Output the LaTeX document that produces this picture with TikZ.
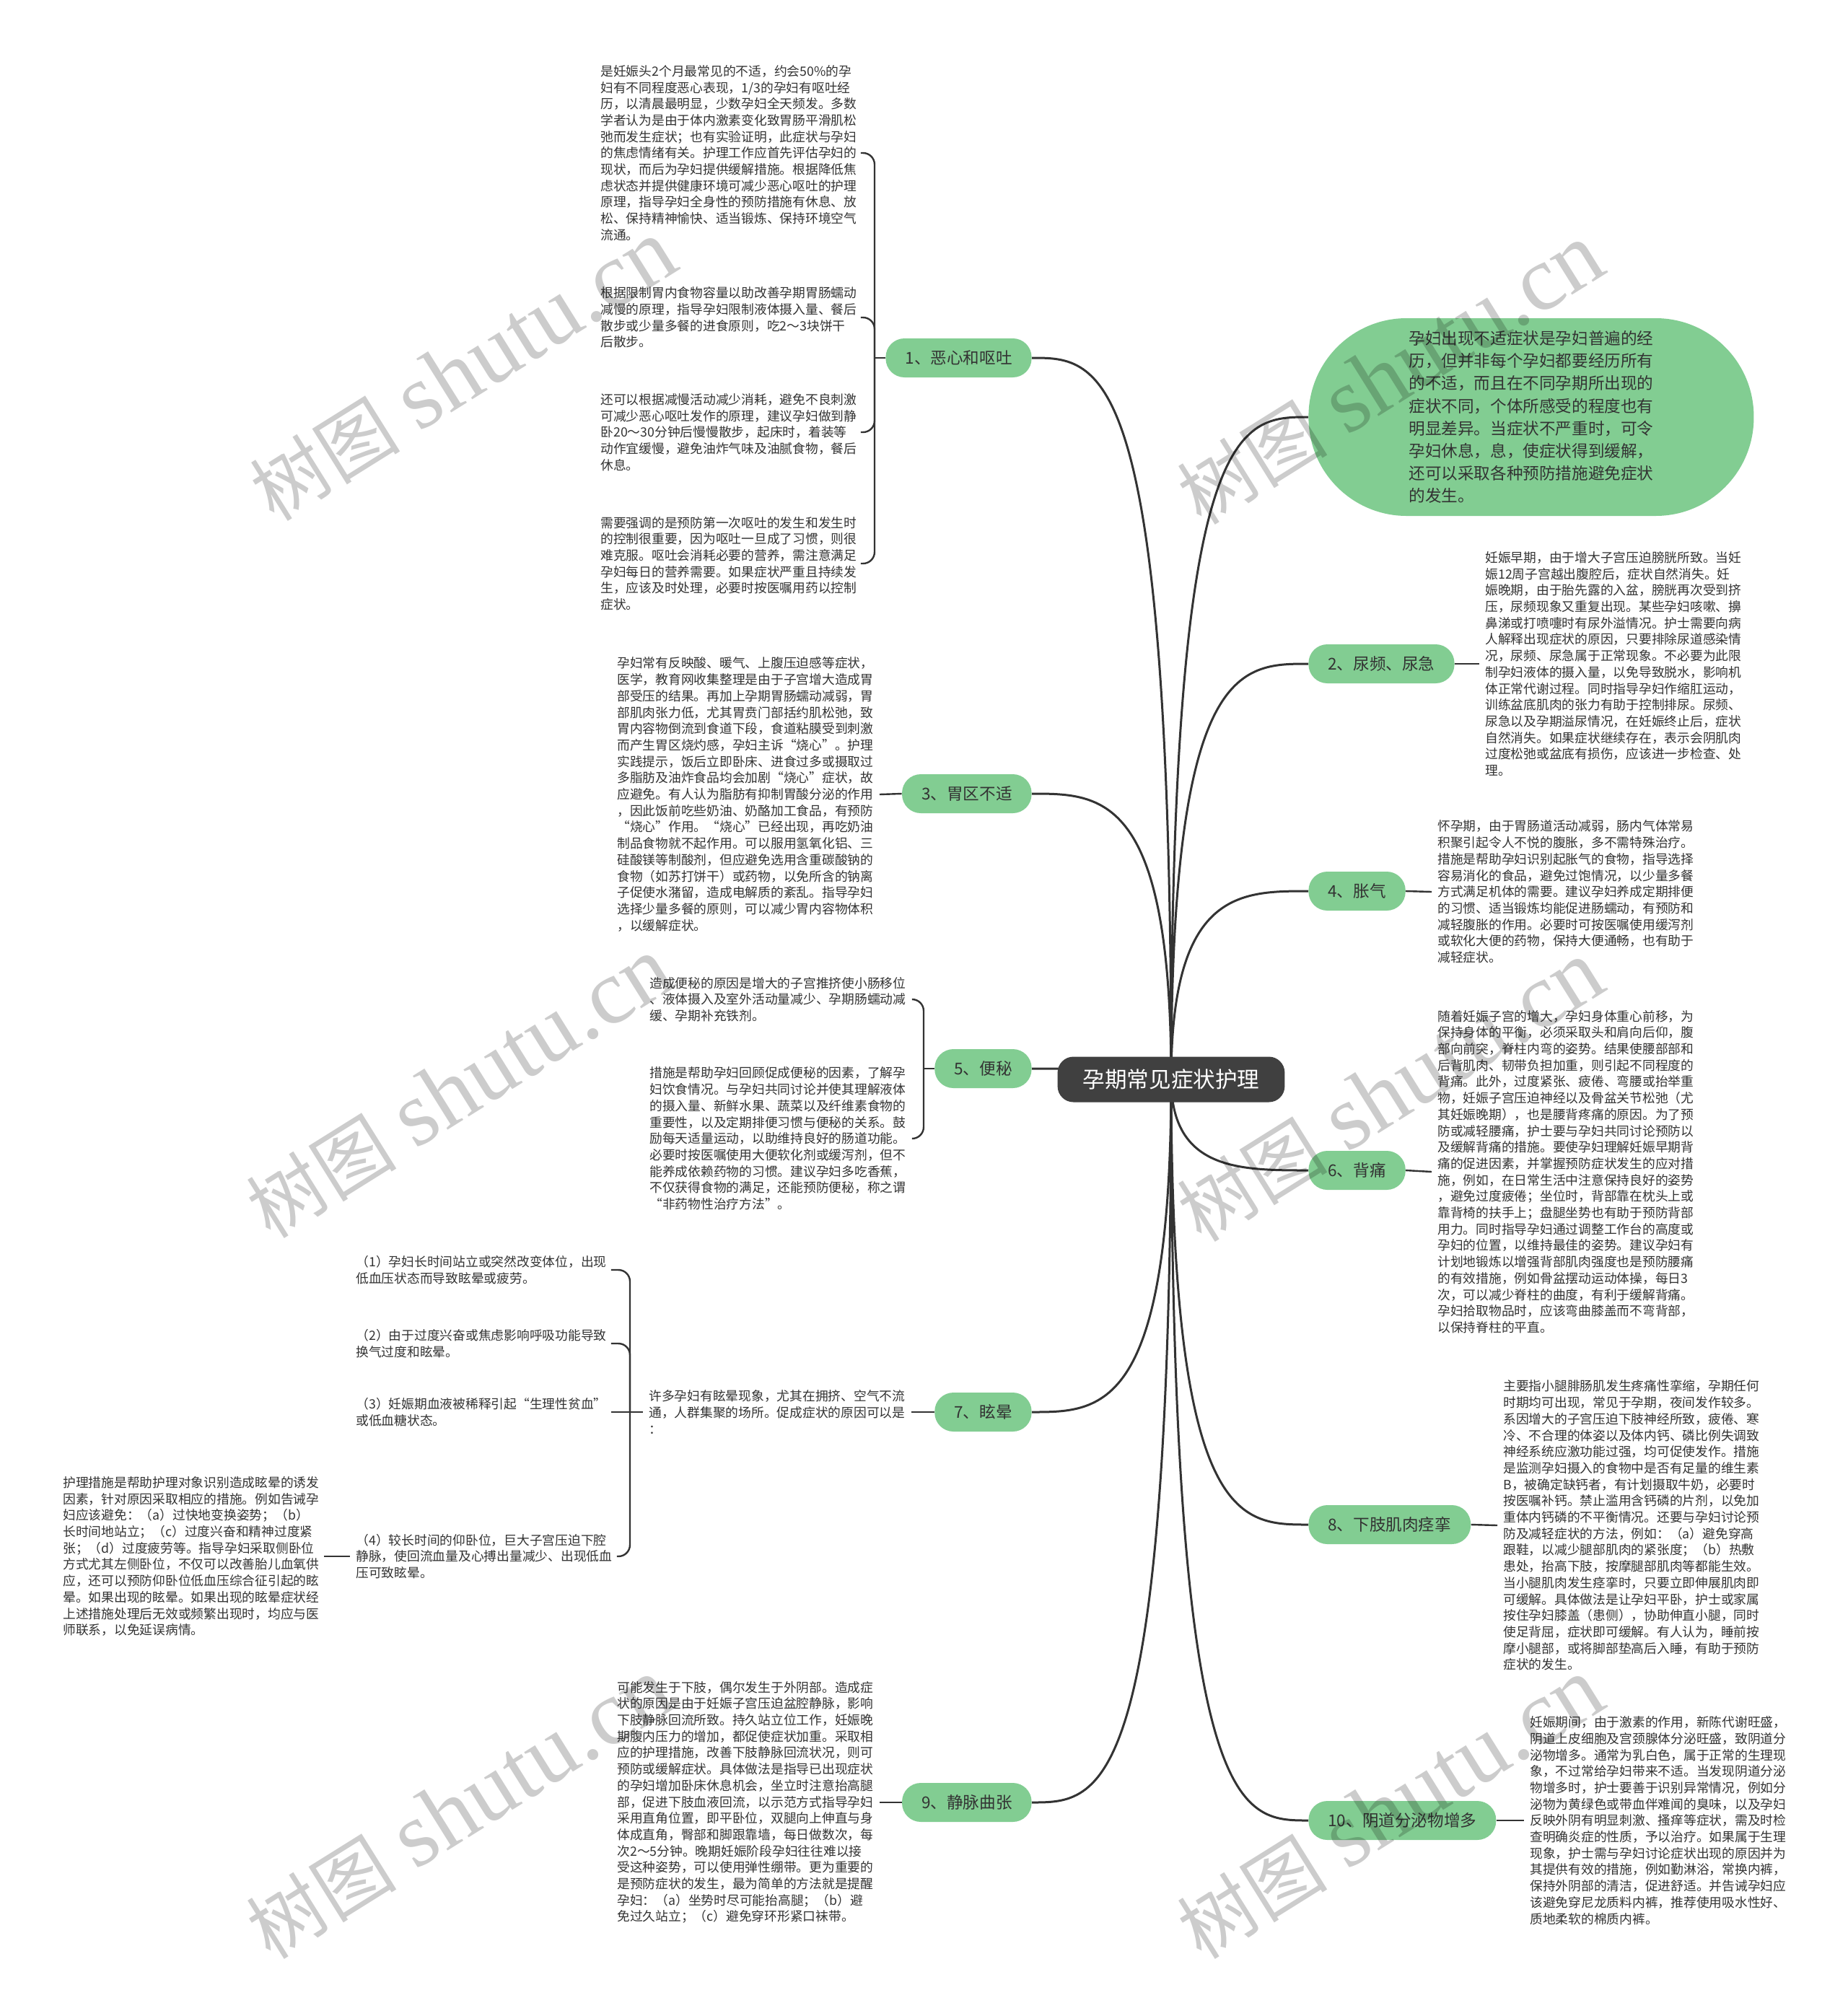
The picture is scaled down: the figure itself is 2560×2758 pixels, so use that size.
\documentclass[tikz,border=0pt]{standalone}
\usepackage{fontspec}
\setmainfont{Noto Sans CJK SC}
\newfontfamily\wmlatin{Liberation Serif}
\usetikzlibrary{calc,backgrounds}
\definecolor{nodegreen}{HTML}{82CD92}
\definecolor{txt}{HTML}{333333}
\definecolor{linec}{HTML}{333333}
\definecolor{centerfill}{HTML}{404040}
\tikzset{
  para/.style={inner sep=0pt, align=left, font=\fontsize{8.875pt}{11.35pt}\selectfont, text=txt},
  mainnode/.style={fill=nodegreen, rounded corners=13pt, inner xsep=13.5pt, inner ysep=0pt, minimum height=27pt, font=\fontsize{11.3pt}{13pt}\selectfont, text=txt},
  centernode/.style={fill=centerfill, rounded corners=11pt, inner xsep=17.5pt, inner ysep=0pt, minimum height=31.5pt, font=\fontsize{15.3pt}{17pt}\selectfont, text=white},
  bubble/.style={fill=nodegreen, rounded corners=68pt, minimum width=308.5pt, minimum height=137pt, inner sep=0pt, align=left, font=\fontsize{11.3pt}{15.6pt}\selectfont, text=txt},
  branch/.style={draw=linec, line width=1.5pt},
  link/.style={draw=linec, line width=1.2pt},
  brace/.style={draw=linec, line width=1.2pt, rounded corners=8pt},
  wm/.style={text=black, text opacity=0.2, rotate=32, inner sep=0pt}
}
\newcommand{\wmtext}{{\fontsize{52pt}{52pt}\selectfont 树图}\hspace{14pt}{\wmlatin\fontsize{64pt}{64pt}\selectfont shutu.cn}}
\begin{document}
\begin{tikzpicture}[x=0.5pt,y=-0.5pt]
\useasboundingbox (0,0) rectangle (2560,2758);

% centre and main nodes
\node[centernode] (c) at (1623,1496) {孕期常见症状护理};

\node[mainnode, anchor=east] (n1) at (1430,496) {1、恶心和呕吐};
\node[mainnode, anchor=east] (n3) at (1430,1100) {3、胃区不适};
\node[mainnode, anchor=east] (n5) at (1430,1481) {5、便秘};
\node[mainnode, anchor=east] (n7) at (1430,1957) {7、眩晕};
\node[mainnode, anchor=east] (n9) at (1430,2498) {9、静脉曲张};

\node[bubble, anchor=west] (bub) at (1813,578) {孕妇出现不适症状是孕妇普遍的经\\历，但并非每个孕妇都要经历所有\\的不适，而且在不同孕期所出现的\\症状不同，个体所感受的程度也有\\明显差异。当症状不严重时，可令\\孕妇休息，息，使症状得到缓解，\\还可以采取各种预防措施避免症状\\的发生。};
\node[mainnode, anchor=west] (n2) at (1813,920) {2、尿频、尿急};
\node[mainnode, anchor=west] (n4) at (1813,1235) {4、胀气};
\node[mainnode, anchor=west] (n6) at (1813,1622) {6、背痛};
\node[mainnode, anchor=west] (n8) at (1813,2113) {8、下肢肌肉痉挛};
\node[mainnode, anchor=west] (n10) at (1813,2523) {10、阴道分泌物增多};

% 1 恶心和呕吐
\node[para, anchor=west] (p1a) at (832,212) {是妊娠头2个月最常见的不适，约会50\%的孕\\妇有不同程度恶心表现，1/3的孕妇有呕吐经\\历，以清晨最明显，少数孕妇全天频发。多数\\学者认为是由于体内激素变化致胃肠平滑肌松\\弛而发生症状；也有实验证明，此症状与孕妇\\的焦虑情绪有关。护理工作应首先评估孕妇的\\现状，而后为孕妇提供缓解措施。根据降低焦\\虑状态并提供健康环境可减少恶心呕吐的护理\\原理，指导孕妇全身性的预防措施有休息、放\\松、保持精神愉快、适当锻炼、保持环境空气\\流通。};
\node[para, anchor=west] (p1b) at (832,440) {根据限制胃内食物容量以助改善孕期胃肠蠕动\\减慢的原理，指导孕妇限制液体摄入量、餐后\\散步或少量多餐的进食原则，吃2～3块饼干\\后散步。};
\node[para, anchor=west] (p1c) at (832,599) {还可以根据减慢活动减少消耗，避免不良刺激\\可减少恶心呕吐发作的原理，建议孕妇做到静\\卧20～30分钟后慢慢散步，起床时，着装等\\动作宜缓慢，避免油炸气味及油腻食物，餐后\\休息。};
\node[para, anchor=west] (p1d) at (832,781) {需要强调的是预防第一次呕吐的发生和发生时\\的控制很重要，因为呕吐一旦成了习惯，则很\\难克服。呕吐会消耗必要的营养，需注意满足\\孕妇每日的营养需要。如果症状严重且持续发\\生，应该及时处理，必要时按医嘱用药以控制\\症状。};
\coordinate (j1) at (1212,496);

% 3 胃区不适
\node[para, anchor=west] (p3) at (855,1101) {孕妇常有反映酸、暖气、上腹压迫感等症状，\\医学，教育网收集整理是由于子宫增大造成胃\\部受压的结果。再加上孕期胃肠蠕动减弱，胃\\部肌肉张力低，尤其胃贲门部括约肌松弛，致\\胃内容物倒流到食道下段，食道粘膜受到刺激\\而产生胃区烧灼感，孕妇主诉“烧心”。护理\\实践提示，饭后立即卧床、进食过多或摄取过\\多脂肪及油炸食品均会加剧“烧心”症状，故\\应避免。有人认为脂肪有抑制胃酸分泌的作用\\，因此饭前吃些奶油、奶酪加工食品，有预防\\“烧心”作用。“烧心”已经出现，再吃奶油\\制品食物就不起作用。可以服用氢氧化铝、三\\硅酸镁等制酸剂，但应避免选用含重碳酸钠的\\食物（如苏打饼干）或药物，以免所含的钠离\\子促使水潴留，造成电解质的紊乱。指导孕妇\\选择少量多餐的原则，可以减少胃内容物体积\\，以缓解症状。};

% 5 便秘
\node[para, anchor=west] (p5a) at (900,1385) {造成便秘的原因是增大的子宫推挤使小肠移位\\、液体摄入及室外活动量减少、孕期肠蠕动减\\缓、孕期补充铁剂。};
\node[para, anchor=west] (p5b) at (900,1578) {措施是帮助孕妇回顾促成便秘的因素，了解孕\\妇饮食情况。与孕妇共同讨论并使其理解液体\\的摄入量、新鲜水果、蔬菜以及纤维素食物的\\重要性，以及定期排便习惯与便秘的关系。鼓\\励每天适量运动，以助维持良好的肠道功能。\\必要时按医嘱使用大便软化剂或缓泻剂，但不\\能养成依赖药物的习惯。建议孕妇多吃香蕉，\\不仅获得食物的满足，还能预防便秘，称之谓\\“非药物性治疗方法”。};
\coordinate (j5) at (1280,1481);

% 7 眩晕
\node[para, anchor=west] (p7) at (899,1957) {许多孕妇有眩晕现象，尤其在拥挤、空气不流\\通，人群集聚的场所。促成症状的原因可以是\\：};
\node[para, anchor=west] (c71) at (493,1760) {（1）孕妇长时间站立或突然改变体位，出现\\低血压状态而导致眩晕或疲劳。};
\node[para, anchor=west] (c72) at (493,1862) {（2）由于过度兴奋或焦虑影响呼吸功能导致\\换气过度和眩晕。};
\node[para, anchor=west] (c73) at (493,1957) {（3）妊娠期血液被稀释引起“生理性贫血”\\或低血糖状态。};
\node[para, anchor=west] (c74) at (493,2157) {（4）较长时间的仰卧位，巨大子宫压迫下腔\\静脉，使回流血量及心搏出量减少、出现低血\\压可致眩晕。};
\node[para, anchor=west] (pfl) at (87,2157) {护理措施是帮助护理对象识别造成眩晕的诱发\\因素，针对原因采取相应的措施。例如告诫孕\\妇应该避免：（a）过快地变换姿势；（b）\\长时间地站立；（c）过度兴奋和精神过度紧\\张；（d）过度疲劳等。指导孕妇采取侧卧位\\方式尤其左侧卧位，不仅可以改善胎儿血氧供\\应，还可以预防仰卧位低血压综合征引起的眩\\晕。如果出现的眩晕。如果出现的眩晕症状经\\上述措施处理后无效或频繁出现时，均应与医\\师联系，以免延误病情。};
\coordinate (j7) at (873,1957);

% 9 静脉曲张
\node[para, anchor=west] (p9) at (855,2498) {可能发生于下肢，偶尔发生于外阴部。造成症\\状的原因是由于妊娠子宫压迫盆腔静脉，影响\\下肢静脉回流所致。持久站立位工作，妊娠晚\\期腹内压力的增加，都促使症状加重。采取相\\应的护理措施，改善下肢静脉回流状况，则可\\预防或缓解症状。具体做法是指导已出现症状\\的孕妇增加卧床休息机会，坐立时注意抬高腿\\部，促进下肢血液回流，以示范方式指导孕妇\\采用直角位置，即平卧位，双腿向上伸直与身\\体成直角，臀部和脚跟靠墙，每日做数次，每\\次2～5分钟。晚期妊娠阶段孕妇往往难以接\\受这种姿势，可以使用弹性绷带。更为重要的\\是预防症状的发生，最为简单的方法就是提醒\\孕妇：（a）坐势时尽可能抬高腿；（b）避\\免过久站立；（c）避免穿环形紧口袜带。};

% right paragraphs
\node[para, anchor=west] (p2) at (2058,920) {妊娠早期，由于增大子宫压迫膀胱所致。当妊\\娠12周子宫越出腹腔后，症状自然消失。妊\\娠晚期，由于胎先露的入盆，膀胱再次受到挤\\压，尿频现象又重复出现。某些孕妇咳嗽、擤\\鼻涕或打喷嚏时有尿外溢情况。护士需要向病\\人解释出现症状的原因，只要排除尿道感染情\\况，尿频、尿急属于正常现象。不必要为此限\\制孕妇液体的摄入量，以免导致脱水，影响机\\体正常代谢过程。同时指导孕妇作缩肛运动，\\训练盆底肌肉的张力有助于控制排尿。尿频、\\尿急以及孕期溢尿情况，在妊娠终止后，症状\\自然消失。如果症状继续存在，表示会阴肌肉\\过度松弛或盆底有损伤，应该进一步检查、处\\理。};
\node[para, anchor=west] (p4) at (1992,1236) {怀孕期，由于胃肠道活动减弱，肠内气体常易\\积聚引起令人不悦的腹胀，多不需特殊治疗。\\措施是帮助孕妇识别起胀气的食物，指导选择\\容易消化的食品，避免过饱情况，以少量多餐\\方式满足机体的需要。建议孕妇养成定期排便\\的习惯、适当锻炼均能促进肠蠕动，有预防和\\减轻腹胀的作用。必要时可按医嘱使用缓泻剂\\或软化大便的药物，保持大便通畅，也有助于\\减轻症状。};
\node[para, anchor=west] (p6) at (1992,1624) {随着妊娠子宫的增大，孕妇身体重心前移，为\\保持身体的平衡，必须采取头和肩向后仰，腹\\部向前突，脊柱内弯的姿势。结果使腰部部和\\后背肌肉、韧带负担加重，则引起不同程度的\\背痛。此外，过度紧张、疲倦、弯腰或抬举重\\物，妊娠子宫压迫神经以及骨盆关节松弛（尤\\其妊娠晚期），也是腰背疼痛的原因。为了预\\防或减轻腰痛，护士要与孕妇共同讨论预防以\\及缓解背痛的措施。要使孕妇理解妊娠早期背\\痛的促进因素，并掌握预防症状发生的应对措\\施，例如，在日常生活中注意保持良好的姿势\\，避免过度疲倦；坐位时，背部靠在枕头上或\\靠背椅的扶手上；盘腿坐势也有助于预防背部\\用力。同时指导孕妇通过调整工作台的高度或\\孕妇的位置，以维持最佳的姿势。建议孕妇有\\计划地锻炼以增强背部肌肉强度也是预防腰痛\\的有效措施，例如骨盆摆动运动体操，每日3\\次，可以减少脊柱的曲度，有利于缓解背痛。\\孕妇拾取物品时，应该弯曲膝盖而不弯背部，\\以保持脊柱的平直。};
\node[para, anchor=west] (p8) at (2083,2114) {主要指小腿腓肠肌发生疼痛性挛缩，孕期任何\\时期均可出现，常见于孕期，夜间发作较多。\\系因增大的子宫压迫下肢神经所致，疲倦、寒\\冷、不合理的体姿以及体内钙、磷比例失调致\\神经系统应激功能过强，均可促使发作。措施\\是监测孕妇摄入的食物中是否有足量的维生素\\B，被确定缺钙者，有计划摄取牛奶，必要时\\按医嘱补钙。禁止滥用含钙磷的片剂，以免加\\重体内钙磷的不平衡情况。还要与孕妇讨论预\\防及减轻症状的方法，例如：（a）避免穿高\\跟鞋，以减少腿部肌肉的紧张度；（b）热敷\\患处，抬高下肢，按摩腿部肌肉等都能生效。\\当小腿肌肉发生痉挛时，只要立即伸展肌肉即\\可缓解。具体做法是让孕妇平卧，护士或家属\\按住孕妇膝盖（患侧），协助伸直小腿，同时\\使足背屈，症状即可缓解。有人认为，睡前按\\摩小腿部，或将脚部垫高后入睡，有助于预防\\症状的发生。};
\node[para, anchor=west] (p10) at (2120,2523) {妊娠期间，由于激素的作用，新陈代谢旺盛，\\阴道上皮细胞及宫颈腺体分泌旺盛，致阴道分\\泌物增多。通常为乳白色，属于正常的生理现\\象，不过常给孕妇带来不适。当发现阴道分泌\\物增多时，护士要善于识别异常情况，例如分\\泌物为黄绿色或带血伴难闻的臭味，以及孕妇\\反映外阴有明显刺激、搔痒等症状，需及时检\\查明确炎症的性质，予以治疗。如果属于生理\\现象，护士需与孕妇讨论症状出现的原因并为\\其提供有效的措施，例如勤淋浴，常换内裤，\\保持外阴部的清洁，促进舒适。并告诫孕妇应\\该避免穿尼龙质料内裤，推荐使用吸水性好、\\质地柔软的棉质内裤。};

\begin{scope}[on background layer]
\fill[white] (0,0) rectangle (2560,2758);
% main curves
\foreach \n in {n1,n3,n5,n7,n9} {
  \draw[branch] (c.center) .. controls (c.center |- \n.east) and ($(c.center |- \n.east)!0.5!(\n.east)$) .. (\n.east);
}
\foreach \n in {bub,n2,n4,n6,n8,n10} {
  \draw[branch] (c.center) .. controls (c.center |- \n.west) and ($(c.center |- \n.west)!0.5!(\n.west)$) .. (\n.west);
}
% bracket 1
\foreach \p in {p1a,p1b,p1c,p1d} {
  \draw[brace] ($(\p.east)+(5,0)$) -| (j1);
}
\draw[link] (j1) -- (n1.west);
% 3
\draw[link] ($(p3.east)+(8,0)$) -- (n3.west);
% bracket 5
\foreach \p in {p5a,p5b} {
  \draw[brace] ($(\p.east)+(8,0)$) -| (j5);
}
\draw[link] (j5) -- (n5.west);
% 7
\draw[link] ($(p7.east)+(8,0)$) -- (n7.west);
\draw[link] (j7) -- ($(p7.west)+(-8,0)$);
\foreach \p in {c71,c72,c74} {
  \draw[brace] ($(\p.east)+(6,0)$) -| (j7);
}
\draw[link] ($(c73.east)+(6,0)$) -- (j7);
\draw[link] ($(pfl.east)+(6,0)$) -- ($(c74.west)+(-8,0)$);
% 9
\draw[link] ($(p9.east)+(8,0)$) -- (n9.west);
% right
\draw[link] (n2.east) -- ($(p2.west)+(-8,0)$);
\draw[link] (n4.east) -- ($(p4.west)+(-8,0)$);
\draw[link] (n6.east) -- ($(p6.west)+(-8,0)$);
\draw[link] (n8.east) -- ($(p8.west)+(-8,0)$);
\draw[link] (n10.east) -- ($(p10.west)+(-8,0)$);
\end{scope}

% watermarks
\node[wm] (w1) at (642,514) {\wmtext};
\node[wm] (w2) at (1927,519) {\wmtext};
\node[wm] (w3) at (637,1508) {\wmtext};
\node[wm] (w4) at (1927,1513) {\wmtext};
\node[wm] (w5) at (637,2507) {\wmtext};
\node[wm] (w6) at (1927,2507) {\wmtext};
\end{tikzpicture}
\end{document}
